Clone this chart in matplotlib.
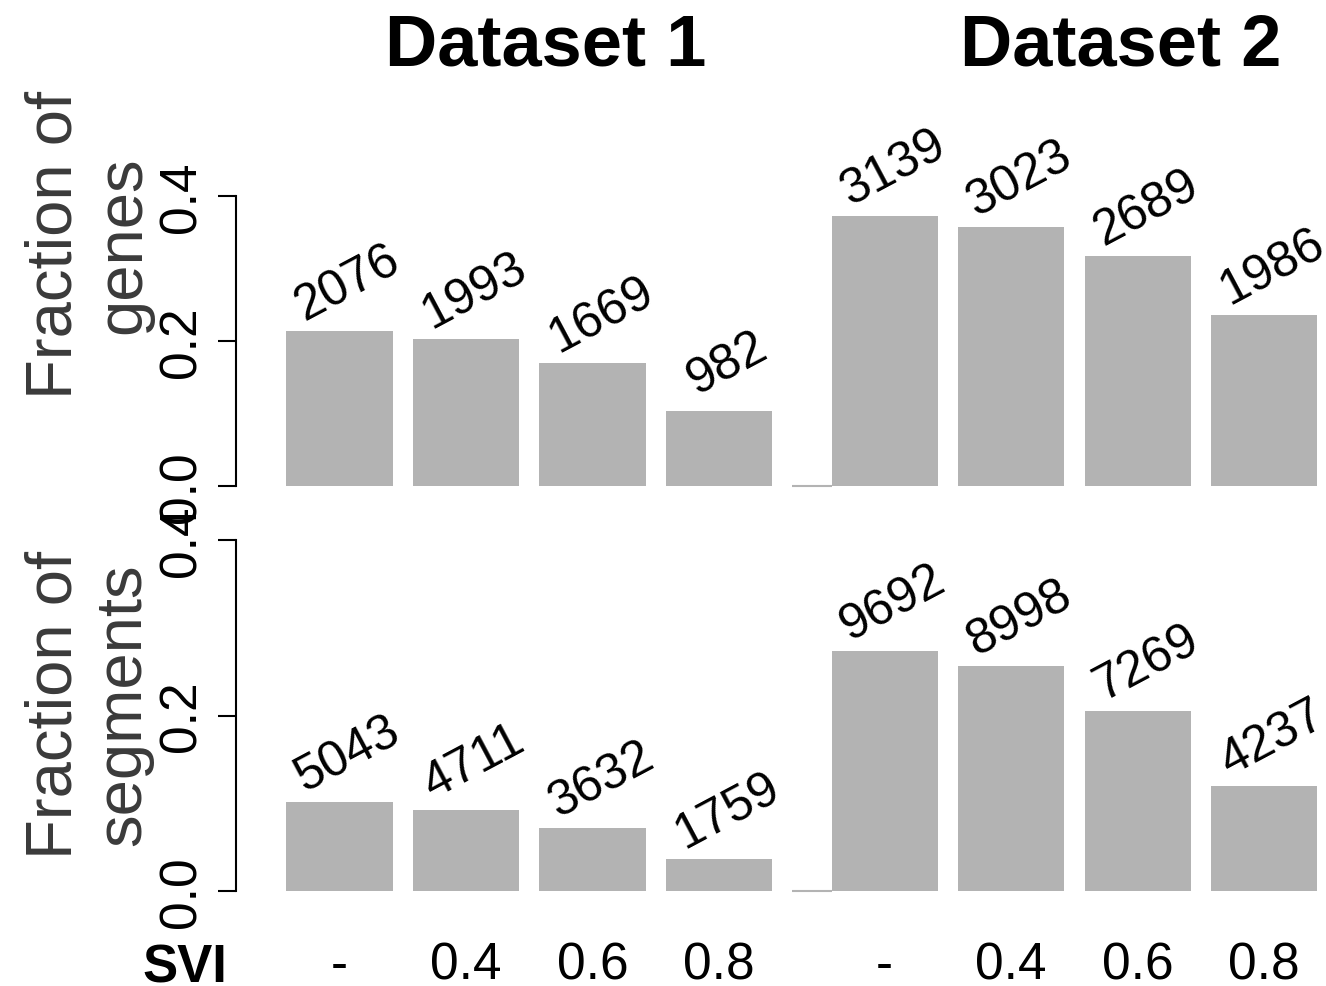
import matplotlib
matplotlib.use("Agg")
import matplotlib.pyplot as plt
import numpy as np

plt.rcParams['font.family'] = ['Liberation Sans', 'DejaVu Sans']

# ---- data ----
datasets = ["Dataset 1", "Dataset 2"]
svi_labels = ["-", "0.4", "0.6", "0.8"]
genes_frac_d1 = [0.214, 0.203, 0.170, 0.103]
genes_frac_d2 = [0.372, 0.357, 0.317, 0.236]
genes_count_d1 = [2076, 1993, 1669, 982]
genes_count_d2 = [3139, 3023, 2689, 1986]
seg_frac_d1 = [0.101, 0.092, 0.072, 0.036]
seg_frac_d2 = [0.273, 0.256, 0.205, 0.120]
seg_count_d1 = [5043, 4711, 3632, 1759]
seg_count_d2 = [9692, 8998, 7269, 4237]
yticks = [0.0, 0.2, 0.4]
ytick_labels = ["0.0", "0.2", "0.4"]

# ---- layout ----
W, H = 1326, 987
fig = plt.figure(figsize=(W / 100, H / 100), dpi=100)

bar_color = "#b3b3b3"
bar_w = 0.84
gap2 = 0.31
x1 = np.arange(4, dtype=float)
x2 = np.arange(4, dtype=float) + 4 + gap2
xall = np.concatenate([x1, x2])
xlim = (-(339.5 - 236) / 126.5, (1326 - 339.5) / 126.5)

left = 236 / W
width = (W - 236) / W
ax_top = fig.add_axes([left, (H - 487) / H, width, 290 / H])
ax_bot = fig.add_axes([left, (H - 892) / H, width, 351 / H])

panels = [
    (ax_top, genes_frac_d1, genes_frac_d2, genes_count_d1, genes_count_d2, "Fraction of\ngenes", 245),
    (ax_bot, seg_frac_d1, seg_frac_d2, seg_count_d1, seg_count_d2, "Fraction of\nsegments", 705),
]

for ax, f1, f2, c1, c2, ylab, ylab_y in panels:
    vals = list(f1) + list(f2)
    counts = list(c1) + list(c2)
    ax.bar(xall, vals, width=bar_w, color=bar_color, edgecolor="none", zorder=2)
    # small baseline segment before Dataset 2 bars
    ax.hlines(0, x2[0] - bar_w / 2 - 0.31, x2[0] - bar_w / 2, color=bar_color, lw=1.5,
              zorder=1, clip_on=False)
    for x, v, n in zip(xall, vals, counts):
        ax.annotate(str(n), xy=(x, v), xytext=(6, 35), textcoords="offset points",
                    rotation=28, rotation_mode="anchor", ha="center", va="center",
                    fontsize=36, color="black", annotation_clip=False)
    ax.set_xlim(*xlim)
    ax.set_ylim(0, 0.4)
    for s in ["top", "right", "bottom"]:
        ax.spines[s].set_visible(False)
    ax.spines["left"].set_linewidth(1.5)
    ax.spines["left"].set_bounds(0, 0.4)
    ax.set_yticks(yticks)
    ax.set_yticklabels(ytick_labels)
    ax.tick_params(axis="y", length=13, width=1.5, pad=8, labelsize=37)
    for lbl in ax.get_yticklabels():
        lbl.set_rotation(90)
        lbl.set_va("center")
        lbl.set_ha("right")
    fig.text(89 / W, 1 - ylab_y / H, ylab, rotation=90, ha="center", va="center",
             fontsize=47, color="#3a3a3a", multialignment="center", linespacing=1.2)

ax_top.set_xticks([])
ax_bot.set_xticks(xall)
ax_bot.set_xticklabels(svi_labels * 2)
ax_bot.tick_params(axis="x", length=0, pad=36, labelsize=37)

fig.text(185 / W, 1 - 983 / H, "SVI", fontsize=38, fontweight="bold", ha="center",
         va="baseline")

fig.text(546 / W, 1 - 47 / H, datasets[0], fontsize=52, fontweight="bold",
         ha="center", va="center")
fig.text(1121 / W, 1 - 47 / H, datasets[1], fontsize=52, fontweight="bold",
         ha="center", va="center")

fig.savefig("out.png", dpi=100)
